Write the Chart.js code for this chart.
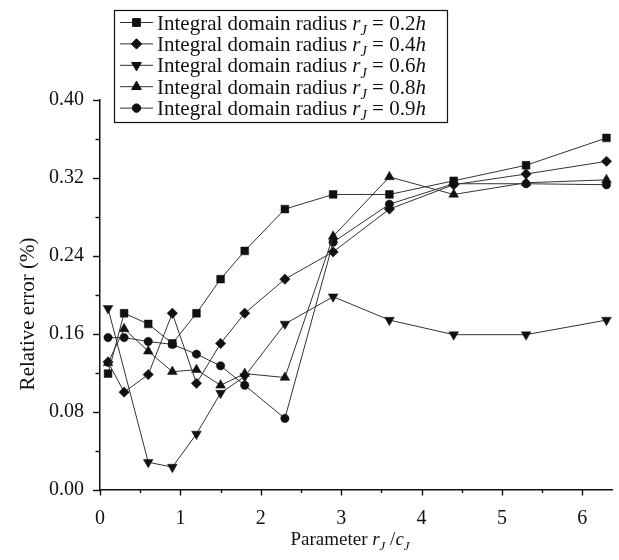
<!DOCTYPE html>
<html>
<head>
<meta charset="utf-8">
<script src="https://cdn.jsdelivr.net/npm/chart.js@4.4.0/dist/chart.umd.min.js"></script>
<style>
  html, body { margin: 0; padding: 0; background: #fff; overflow: hidden; }
  #wrap { width: 619px; height: 560px; position: relative; }
</style>
</head>
<body>
<div id="wrap"><canvas id="c" width="619" height="560"></canvas></div>
<script>
// values
const xLong = [0.1, 0.3, 0.6, 0.9, 1.2, 1.5, 1.8, 2.3, 2.9, 3.6, 4.4, 5.3, 6.3];
const xShort = [0.1, 0.6, 0.9, 1.2, 1.5, 1.8, 2.3, 2.9, 3.6, 4.4, 5.3, 6.3]; // r = 0.6h has no point at 0.3
const err02 = [0.119, 0.181, 0.170, 0.150, 0.181, 0.216, 0.245, 0.288, 0.303, 0.303, 0.317, 0.333, 0.361];
const err04 = [0.131, 0.100, 0.118, 0.181, 0.109, 0.150, 0.181, 0.216, 0.244, 0.288, 0.313, 0.324, 0.337];
const err06 = [0.186, 0.028, 0.023, 0.057, 0.099, 0.116, 0.170, 0.198, 0.174, 0.159, 0.159, 0.174];
const err08 = [0.130, 0.165, 0.142, 0.121, 0.123, 0.107, 0.119, 0.115, 0.260, 0.321, 0.303, 0.315, 0.318];
const err09 = [0.156, 0.156, 0.152, 0.149, 0.139, 0.127, 0.107, 0.073, 0.254, 0.293, 0.314, 0.314, 0.313];
const radii = ["0.2", "0.4", "0.6", "0.8", "0.9"];
const xTicks = [0, 1, 2, 3, 4, 5, 6];
const yTicks = [0, 0.08, 0.16, 0.24, 0.32, 0.40];

const FONT = "'Liberation Serif', 'Times New Roman', serif";
const INK = "#111";

function pts(xs, ys){
    return ys.map((v, i) => ({x: xs[i], y: v}));
}
function series(xs, ys, style, r, rot){
    return {
        data: pts(xs, ys),
        borderColor: "#333",
        borderWidth: 1,
        backgroundColor: INK,
        pointBackgroundColor: INK,
        pointBorderColor: INK,
        pointBorderWidth: 0.5,
        pointStyle: style,
        pointRadius: r,
        pointRotation: rot || 0,
        tension: 0
    };
}

// tick marks: major + minor, outward
const tickMarks = {
    id: "tickMarks",
    afterDraw(chart){
        const ctx = chart.ctx, xs = chart.scales.x, ys = chart.scales.y;
        const a = chart.chartArea;
        ctx.save();
        ctx.strokeStyle = INK;
        ctx.lineWidth = 1.4;
        for(let v = 0; v <= 6.001; v += 0.5){
            const px = Math.round(xs.getPixelForValue(v)) + 0.5;
            const len = (Math.abs(v - Math.round(v)) < 1e-6) ? 6 : 3.5;
            ctx.beginPath(); ctx.moveTo(px, a.bottom); ctx.lineTo(px, a.bottom + len); ctx.stroke();
        }
        for(let v = 0; v <= 0.4001; v += 0.04){
            const py = Math.round(ys.getPixelForValue(v)) + 0.5;
            const k = Math.round(v / 0.04);
            const len = (k % 2 === 0) ? 7 : 4.5;
            ctx.beginPath(); ctx.moveTo(a.left, py); ctx.lineTo(a.left - len, py); ctx.stroke();
        }
        ctx.restore();
    }
};

// draw a run of [text, italic, sub] pieces starting at x
function richText(ctx, parts, x, y, size){
    parts.forEach(p => {
        const s = p[2] ? size * 0.68 : size;
        ctx.font = (p[1] ? "italic " : "") + s + "px " + FONT;
        ctx.fillText(p[0], x, y + (p[2] ? size * 0.25 : 0));
        x += ctx.measureText(p[0]).width;
    });
    return x;
}
function richWidth(ctx, parts, size){
    let w = 0;
    parts.forEach(p => {
        const s = p[2] ? size * 0.68 : size;
        ctx.font = (p[1] ? "italic " : "") + s + "px " + FONT;
        w += ctx.measureText(p[0]).width;
    });
    return w;
}

const boxLegend = {
    id: "boxLegend",
    afterDraw(chart){
        const ctx = chart.ctx;
        ctx.save();
        const L = 114, T = 10, R = 447, B = 122;
        ctx.fillStyle = "#fff";
        ctx.fillRect(L, T, R - L, B - T);
        ctx.strokeStyle = INK;
        ctx.lineWidth = 1.2;
        ctx.strokeRect(L + 0.5, T + 0.5, R - L, B - T);
        chart.data.datasets.forEach((ds, i) => {
            const y = 22.5 + i * 21.4;
            ctx.strokeStyle = "#333";
            ctx.lineWidth = 1;
            ctx.beginPath(); ctx.moveTo(120, y); ctx.lineTo(153, y); ctx.stroke();
            ctx.fillStyle = INK;
            ctx.strokeStyle = INK;
            Chart.helpers.drawPoint(ctx, {pointStyle: ds.pointStyle, radius: ds.pointRadius, rotation: ds.pointRotation, borderWidth: 0.5}, 136.5, y);
            ctx.fillStyle = INK;
            ctx.textBaseline = "alphabetic";
            ctx.textAlign = "left";
            richText(ctx, [["Integral domain radius ", false], ["r", true], ["J", true, true], [" = " + radii[i], false], ["h", true]], 157, y + 7, 21);
        });
        ctx.restore();
    }
};

const axisTitles = {
    id: "axisTitles",
    afterDraw(chart){
        const ctx = chart.ctx;
        ctx.save();
        ctx.fillStyle = INK;
        ctx.textBaseline = "alphabetic";
        ctx.textAlign = "left";
        const xt = [["Parameter ", false], ["r", true], ["J", true, true], [" /", false], ["c", true], ["J", true, true]];
        const w = richWidth(ctx, xt, 19);
        richText(ctx, xt, 350 - w / 2, 545, 19);
        ctx.translate(34, 314);
        ctx.rotate(-Math.PI / 2);
        ctx.font = "21px " + FONT;
        ctx.textAlign = "center";
        ctx.fillText("Relative error (%)", 0, 0);
        ctx.restore();
    }
};

new Chart(document.getElementById("c"), {
    type: "line",
    data: {
        datasets: [
            series(xLong, err02, "rect", 5.5),
            series(xLong, err04, "rectRot", 5.2),
            series(xShort, err06, "triangle", 5.6, 180),
            series(xLong, err08, "triangle", 5.6),
            series(xLong, err09, "circle", 4.2)
        ]
    },
    options: {
        responsive: false,
        animation: false,
        devicePixelRatio: 1,
        layout: { padding: { top: 100, right: 0, left: 0, bottom: 0 } },
        plugins: { legend: { display: false }, tooltip: { enabled: false } },
        scales: {
            x: {
                type: "linear",
                min: 0, max: 6.38,
                afterBuildTicks: s => { s.ticks = xTicks.map(v => ({value: v})); },
                afterFit: s => { s.height = 70.5; },
                grid: { display: false, drawTicks: false },
                border: { display: true, color: INK, width: 1.5 },
                ticks: { padding: 17, color: INK, font: { family: FONT, size: 20 }, maxRotation: 0, callback: v => String(v) }
            },
            y: {
                min: 0, max: 0.40,
                afterBuildTicks: s => { s.ticks = yTicks.map(v => ({value: v})); },
                afterFit: s => { s.width = 100; },
                grid: { display: false, drawTicks: false },
                border: { display: true, color: INK, width: 1.5 },
                ticks: { padding: 16, color: INK, font: { family: FONT, size: 20 }, callback: v => v.toFixed(2) }
            }
        }
    },
    plugins: [tickMarks, axisTitles, boxLegend]
});
</script>
</body>
</html>
